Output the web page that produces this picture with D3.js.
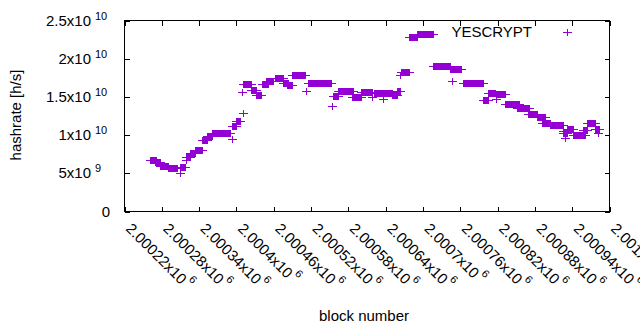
<!DOCTYPE html>
<html><head><meta charset="utf-8">
<script src="https://cdn.jsdelivr.net/npm/d3@7"></script>
<style>
body{margin:0;background:#fff}
svg{display:block}
text{font-family:"Liberation Sans",Arial,sans-serif;fill:#000}
</style>
</head><body>
<svg id="chart" width="640" height="330"></svg>
<script>
// ---- data ----
const seriesName = "YESCRYPT";
// runs of consecutive blocks with (nearly) the same hashrate estimate
const runFirst = [2000262,2000270,2000278,2000291,2000310,2000320,2000326,2000334,2000345,2000353,2000361,2000394,2000400,2000411,2000424,2000432,2000442,2000448,2000463,2000476,2000482,2000490,2000516,2000556,2000564,2000586,2000601,2000622,2000651,2000659,2000665,2000678,2000691,2000717,2000744,2000765,2000797,2000805,2000818,2000832,2000852,2000869,2000884,2000893,2000905,2000926,2000932,2000942,2000958,2000964,2000977];
const runLast  = [2000271,2000278,2000291,2000305,2000318,2000326,2000334,2000345,2000353,2000361,2000390,2000400,2000406,2000424,2000432,2000440,2000451,2000459,2000476,2000484,2000490,2000511,2000553,2000564,2000588,2000601,2000619,2000651,2000659,2000664,2000678,2000691,2000717,2000744,2000762,2000797,2000805,2000816,2000832,2000855,2000871,2000885,2000897,2000905,2000926,2000932,2000942,2000961,2000964,2000977,2000984];
const runRate  = [6.61e9,6.35e9,5.89e9,5.69e9,5.82e9,7.07e9,7.53e9,7.98e9,9.29e9,9.82e9,1.027e10,1.113e10,1.178e10,1.662e10,1.584e10,1.518e10,1.662e10,1.708e10,1.747e10,1.669e10,1.643e10,1.774e10,1.669e10,1.505e10,1.577e10,1.492e10,1.564e10,1.545e10,1.518e10,1.571e10,1.813e10,2.277e10,2.323e10,1.898e10,1.865e10,1.675e10,1.459e10,1.538e10,1.531e10,1.400e10,1.348e10,1.276e10,1.230e10,1.158e10,1.132e10,1.027e10,1.073e10,9.95e9,1.06e10,1.158e10,1.067e10];
// isolated blocks
const singleBlock = [2000310,2000320,2000394,2000411,2000410,2000512,2000554,2000619,2000636,2000664,2000747,2000819,2000926,2000930,2000982];
const singleRate  = [4.97e9,6.68e9,9.42e9,1.283e10,1.558e10,1.571e10,1.374e10,1.492e10,1.466e10,1.78e10,1.702e10,1.466e10,1.047e10,9.55e9,1.021e10];

const xTickValues   = [2000220,2000280,2000340,2000400,2000460,2000520,2000580,2000640,2000700,2000760,2000820,2000880,2000940,2001000];
const xTickMantissa = ["2.00022","2.00028","2.00034","2.0004","2.00046","2.00052","2.00058","2.00064","2.0007","2.00076","2.00082","2.00088","2.00094","2.001"];
const xTickExponent = ["6","6","6","6","6","6","6","6","6","6","6","6","6","6"];
const yTickValues   = [0,5e9,1e10,1.5e10,2e10,2.5e10];
const yTickMantissa = ["0","5","1","1.5","2","2.5"];
const yTickExponent = ["","9","10","10","10","10"];

const xTitle = "block number";
const yTitle = "hashrate [h/s]";
const color = "#9400d3";

// ---- drawing ----
const svg = d3.select("#chart");
const L = 124.5, R = 609.5, T = 20.5, B = 211.5;
const x = d3.scaleLinear().domain([2000220, 2001000]).range([L, R]);
const y = d3.scaleLinear().domain([0, 2.5e10]).range([B, T]);

// ticks (inward, mirrored)
const tk = 5;
svg.append("g").attr("transform", `translate(0,${B})`)
  .call(d3.axisBottom(x).tickValues(xTickValues).tickSize(-tk).tickFormat(""));
svg.append("g").attr("transform", `translate(0,${T})`)
  .call(d3.axisTop(x).tickValues(xTickValues).tickSize(-tk).tickFormat(""));
svg.append("g").attr("transform", `translate(${L},0)`)
  .call(d3.axisLeft(y).tickValues(yTickValues).tickSize(-tk).tickFormat(""));
svg.append("g").attr("transform", `translate(${R},0)`)
  .call(d3.axisRight(y).tickValues(yTickValues).tickSize(-tk).tickFormat(""));
svg.selectAll(".domain").remove();
svg.selectAll(".tick line").attr("stroke", "#000").attr("shape-rendering", "crispEdges");

// frame
svg.append("rect").attr("x", L).attr("y", T).attr("width", R - L).attr("height", B - T)
  .attr("fill", "none").attr("stroke", "#000").attr("shape-rendering", "crispEdges");

// y tick labels
const yl = svg.append("g").attr("font-size", 15);
yTickValues.forEach((v, i) => {
  const ty = y(v) + 5;
  if (yTickExponent[i] === "") {
    yl.append("text").attr("x", 110).attr("y", ty).attr("text-anchor", "end").text(yTickMantissa[i]);
  } else {
    yl.append("text").attr("x", 91).attr("y", ty).attr("text-anchor", "end").text(yTickMantissa[i] + "x10");
    yl.append("text").attr("x", 95).attr("y", ty - 6).attr("font-size", 11).text(yTickExponent[i]);
  }
});

// x tick labels (rotated)
const xl = svg.append("g").attr("font-size", 15);
xTickValues.forEach((v, i) => {
  const t = xl.append("text").attr("transform", `translate(${x(v) + 0.5},229.6) rotate(45)`);
  t.append("tspan").text(xTickMantissa[i] + "x10");
  t.append("tspan").attr("dx", 2).attr("dy", -9).attr("font-size", 11).text(xTickExponent[i]);
});

// titles
svg.append("text").attr("x", 364).attr("y", 321).attr("text-anchor", "middle").attr("font-size", 15).text(xTitle);
svg.append("text").attr("transform", "translate(21,115) rotate(-90)").attr("text-anchor", "middle").attr("font-size", 15).text(yTitle);

// markers: a run of '+' points merges into a band of vertical arms plus one horizontal arm
function plusRun(xa, xb, yc) {
  xa = Math.round(xa - 0.5); xb = Math.round(xb - 0.5); yc = Math.round(yc - 0.5);
  const h = 3;
  return `M${xa},${yc - h}H${xb + 1}V${yc + h + 1}H${xa}Z` +
         `M${xa - h - 1},${yc}H${xb + h + 2}V${yc + 1}H${xa - h - 1}Z`;
}
const runs = runFirst.map((f, i) => ({ f, l: runLast[i], r: runRate[i] }));
const pts = svg.append("g").attr("fill", color).attr("shape-rendering", "crispEdges");
pts.selectAll("path.run").data(runs).join("path").attr("class", "run")
  .attr("d", d => plusRun(x(d.f), x(d.l), y(d.r)));
const singles = singleBlock.map((b, i) => ({ b, r: singleRate[i] }));
pts.selectAll("path.single").data(singles).join("path").attr("class", "single")
  .attr("d", d => plusRun(x(d.b), x(d.b), y(d.r)));

// legend
svg.append("text").attr("x", 532).attr("y", 37).attr("text-anchor", "end").attr("font-size", 15).text(seriesName);
svg.append("path").attr("fill", color).attr("shape-rendering", "crispEdges").attr("d", plusRun(567.5, 567.5, 32.5));
</script>
</body></html>
